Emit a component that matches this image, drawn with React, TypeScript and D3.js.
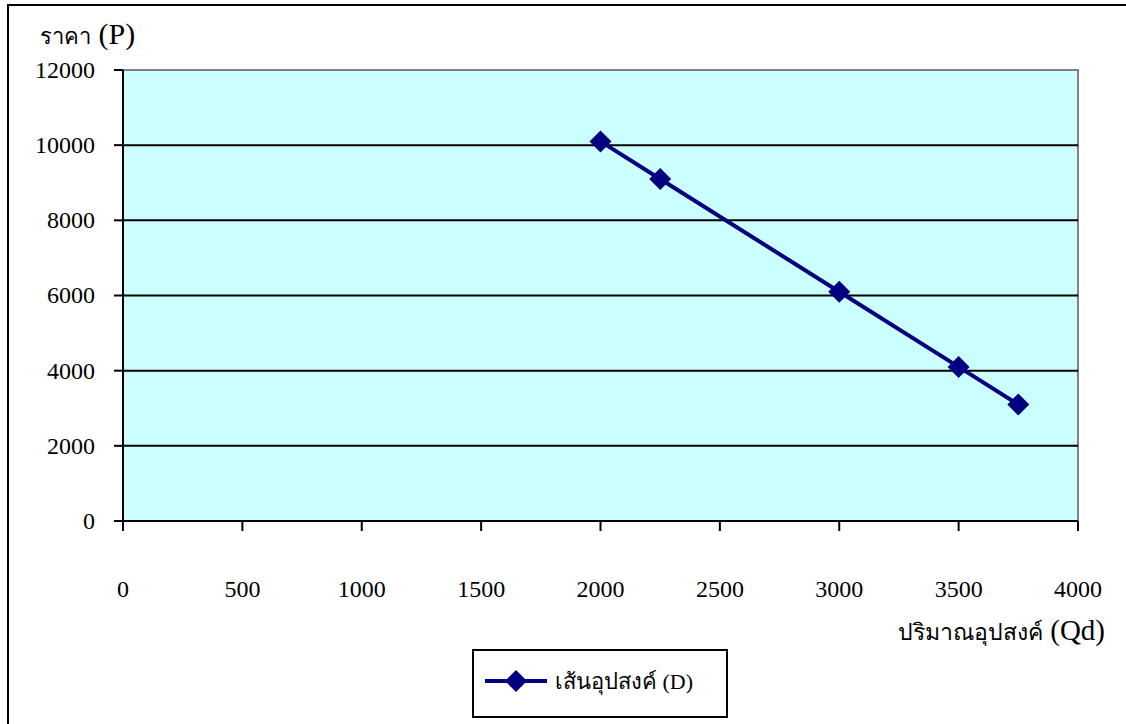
import * as d3 from 'd3'

const quantities = [2000, 2250, 3000, 3500, 3750]
const prices = [10100, 9100, 6100, 4100, 3100]
const xTicks = [0, 500, 1000, 1500, 2000, 2500, 3000, 3500, 4000]
const yTicks = [0, 2000, 4000, 6000, 8000, 10000, 12000]
const seriesThai = 'เส้นอุปสงค์'
const seriesLatin = '(D)'
const yTitleThai = 'ราคา'
const yTitleLatin = '(P)'
const xTitleThai = 'ปริมาณอุปสงค์'
const xTitleLatin = '(Qd)'

const width = 1126
const height = 724
const plot = { x0: 123, x1: 1078, y0: 70, y1: 521 }
const navy = '#000080'
const font = '"Liberation Serif", "Times New Roman", serif'

function diamond(cx: number, cy: number, r: number): string {
  return `M${cx},${cy - r}L${cx + r},${cy}L${cx},${cy + r}L${cx - r},${cy}Z`
}

export default function App() {
  const x = d3.scaleLinear().domain([0, 4000]).range([plot.x0, plot.x1])
  const y = d3.scaleLinear().domain([0, 12000]).range([plot.y1, plot.y0])
  const points = quantities.map((q, i) => ({ q, p: prices[i] }))
  const line = d3
    .line<{ q: number; p: number }>()
    .x((d) => x(d.q))
    .y((d) => y(d.p))

  return (
    <svg
      width={width}
      height={height}
      style={{ position: 'absolute', left: 0, top: 0, fontFamily: font }}
    >
      <rect x={0} y={0} width={width} height={height} fill="#ffffff" />
      <rect x={8} y={5} width={width + 20} height={height + 20} fill="none" stroke="#000" strokeWidth={2} />

      <rect
        x={plot.x0}
        y={plot.y0}
        width={plot.x1 - plot.x0}
        height={plot.y1 - plot.y0}
        fill="#ccffff"
        stroke="#808080"
        strokeWidth={2}
      />

      {yTicks.slice(1, -1).map((t) => (
        <line key={t} x1={plot.x0} x2={plot.x1} y1={y(t)} y2={y(t)} stroke="#000" strokeWidth={2} />
      ))}

      <line x1={plot.x0} x2={plot.x0} y1={plot.y0} y2={plot.y1} stroke="#000" strokeWidth={2} />
      <line x1={plot.x0} x2={plot.x1} y1={plot.y1} y2={plot.y1} stroke="#000" strokeWidth={2} />

      {yTicks.map((t) => (
        <g key={t}>
          <line x1={plot.x0 - 9} x2={plot.x0} y1={y(t)} y2={y(t)} stroke="#000" strokeWidth={2} />
          <text x={95} y={y(t)} dy="0.33em" textAnchor="end" fontSize={24}>
            {t}
          </text>
        </g>
      ))}

      {xTicks.map((t) => (
        <g key={t}>
          <line x1={x(t)} x2={x(t)} y1={plot.y1} y2={plot.y1 + 10} stroke="#000" strokeWidth={2} />
          <text x={x(t)} y={589} dy="0.33em" textAnchor="middle" fontSize={24}>
            {t}
          </text>
        </g>
      ))}

      <text x={40} y={44}>
        <tspan fontSize={22}>{yTitleThai}</tspan>
        <tspan fontSize={30}> {yTitleLatin}</tspan>
      </text>
      <text x={1105} y={640} textAnchor="end">
        <tspan fontSize={23}>{xTitleThai}</tspan>
        <tspan fontSize={29}> {xTitleLatin}</tspan>
      </text>

      <path d={line(points) ?? ''} fill="none" stroke={navy} strokeWidth={4} />
      {points.map((d) => (
        <path key={d.q} d={diamond(x(d.q), y(d.p), 11)} fill={navy} />
      ))}

      <rect x={473} y={650} width={254} height={67} fill="#fff" stroke="#000" strokeWidth={2} />
      <line x1={485} x2={547} y1={681} y2={681} stroke={navy} strokeWidth={4} />
      <path d={diamond(516, 681, 11)} fill={navy} />
      <text x={555} y={689}>
        <tspan fontSize={22}>{seriesThai}</tspan>
        <tspan fontSize={22}> {seriesLatin}</tspan>
      </text>
    </svg>
  )
}
